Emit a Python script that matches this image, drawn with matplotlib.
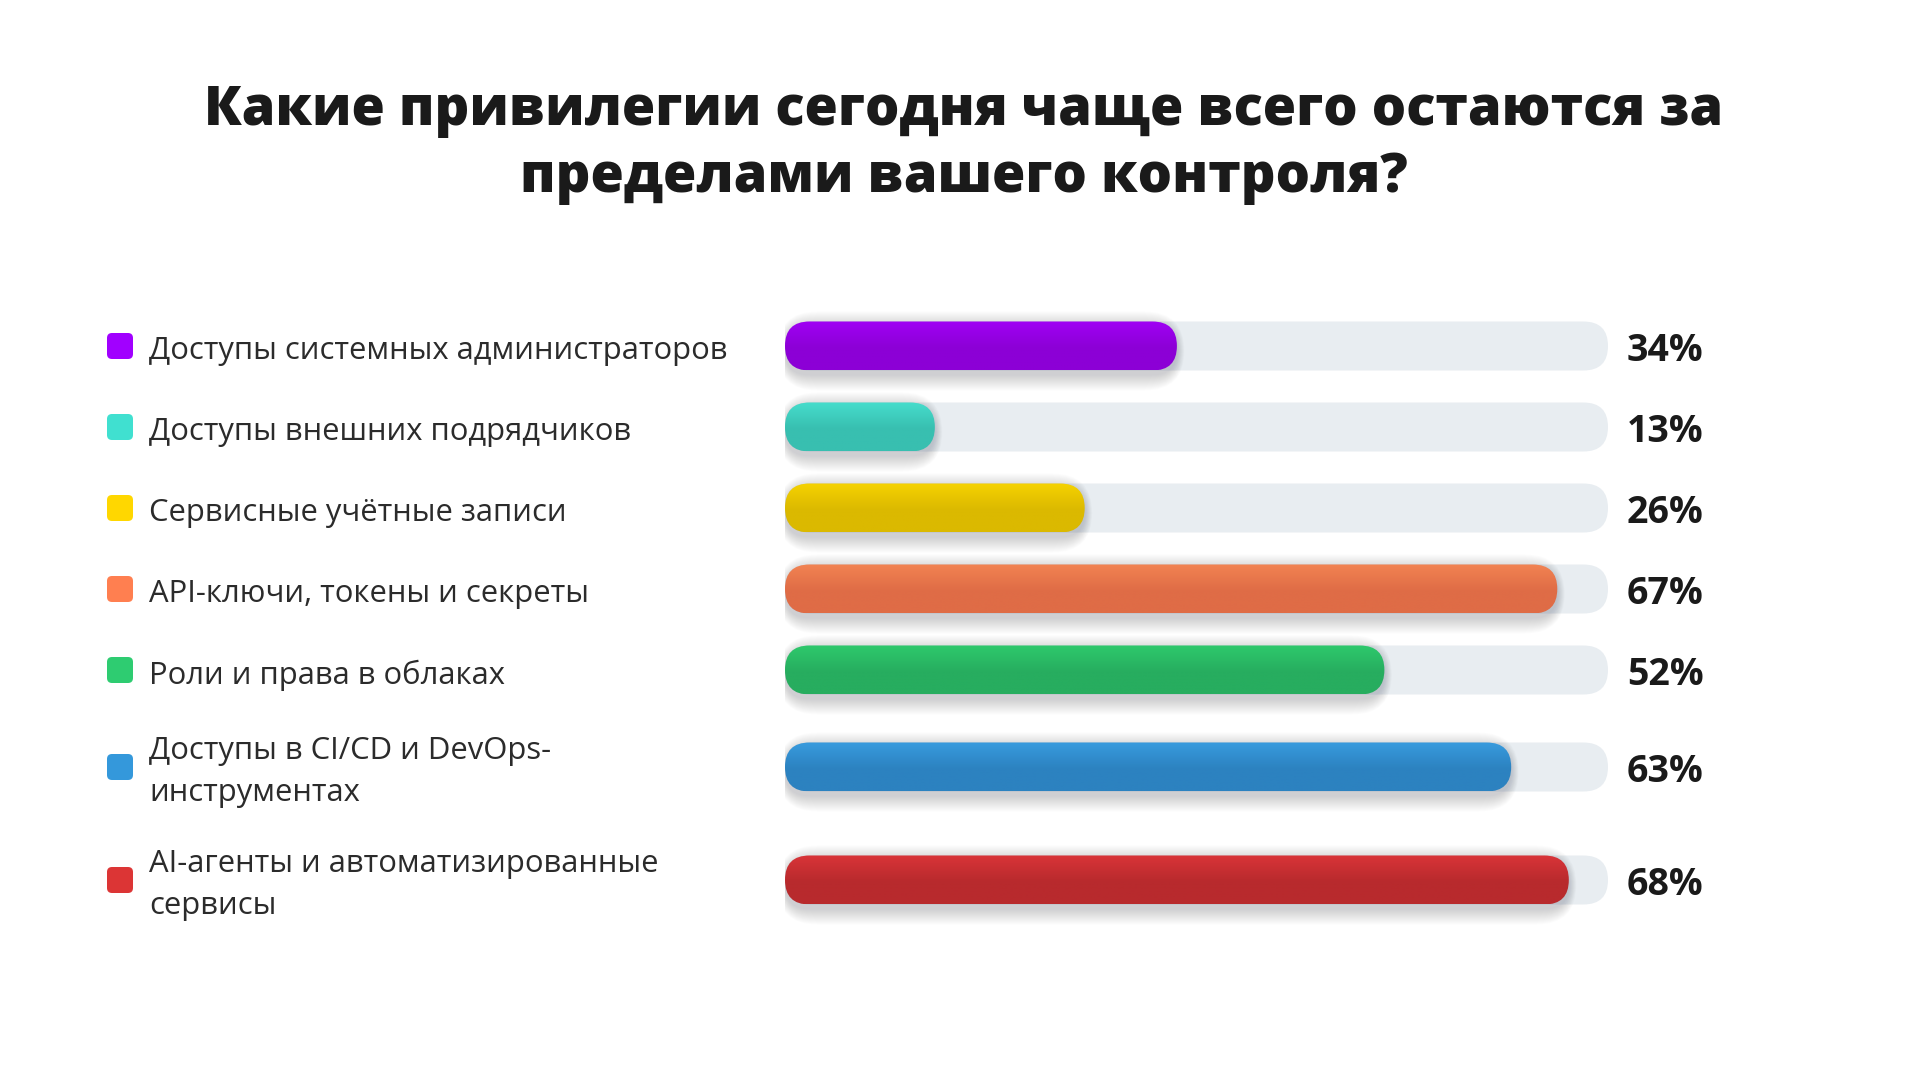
import matplotlib
matplotlib.use("Agg")
import matplotlib.pyplot as plt
from matplotlib.patches import FancyBboxPatch
import matplotlib.colors as mcolors
import numpy as np

# ---- data ----
categories = [
    "Доступы системных администраторов",
    "Доступы внешних подрядчиков",
    "Сервисные учётные записи",
    "API-ключи, токены и секреты",
    "Роли и права в облаках",
    "Доступы в CI/CD и DevOps-\nинструментах",
    "AI-агенты и автоматизированные\nсервисы",
]
values = [34, 13, 26, 67, 52, 63, 68]
value_labels = ["34%", "13%", "26%", "67%", "52%", "63%", "68%"]
title = "Какие привилегии сегодня чаще всего остаются за\nпределами вашего контроля?"

# ---- styles ----
square_colors = ["#a100ff", "#40e0d0", "#ffd700", "#ff7f50", "#2ecc71", "#3498db", "#dc3535"]
bar_top = ["#a000f4", "#46ddcc", "#f6d200", "#f28352", "#2ec96c", "#389bde", "#d93438"]
bar_bot = ["#8c00d6", "#38bfb0", "#dbb900", "#df6c46", "#27ad5f", "#2c82c0", "#b82a2d"]
track_color = "#e8edf1"
FONT = ["Open Sans", "DejaVu Sans"]

W, H = 1920, 1080
fig = plt.figure(figsize=(W / 100, H / 100), dpi=100)
fig.patch.set_facecolor("white")

# layout (pixels)
track_left, track_right = 785, 1608
bar_h = 49
row_single, row_double = 81, 113
first_center = 346

heights = [row_double if "\n" in c else row_single for c in categories]
centers = []
c = first_center
for i, hgt in enumerate(heights):
    if i > 0:
        c += heights[i - 1] / 2 + hgt / 2
    centers.append(c)

xmax = max(values) * 1.05

ax = fig.add_axes([track_left / W, 0, (track_right - track_left) / W, 1])
ax.set_xlim(0, xmax)
ax.set_ylim(H, 0)
ax.axis("off")
sx = (track_right - track_left) / xmax  # px per x unit
m = sx  # y unit is 1 px


def pill(x0, width, yc, h, **kw):
    return FancyBboxPatch((x0, yc - h / 2), width, h,
                          boxstyle=f"round,pad=0,rounding_size={h / (2 * m)}",
                          mutation_aspect=m, **kw)


for i, (v, yc) in enumerate(zip(values, centers)):
    # track
    ax.add_patch(pill(0, xmax, yc, bar_h, facecolor=track_color, edgecolor="none", zorder=1))
    # soft shadow
    for k in range(16):
        e = 2.0 * k
        ax.add_patch(pill(-e * 0.25 / sx, v + e * 0.5 / sx, yc + 5, bar_h + e,
                          facecolor="#1a2030", edgecolor="none", alpha=0.010, zorder=2))
    # gradient fill
    top = np.array(mcolors.to_rgb(bar_top[i]))
    bot = np.array(mcolors.to_rgb(bar_bot[i]))
    t = np.linspace(0, 1, 64)
    prof = np.clip(t / 0.55, 0, 1)
    grad = top[None, :] * (1 - prof[:, None]) + bot[None, :] * prof[:, None]
    img = np.repeat(grad[:, None, :], 2, axis=1)
    clip = pill(0, v, yc, bar_h, facecolor="none", edgecolor="none", zorder=3)
    ax.add_patch(clip)
    im = ax.imshow(img, extent=[0, v, yc - bar_h / 2, yc + bar_h / 2], origin="lower",
                   aspect="auto", interpolation="bilinear", zorder=3)
    im.set_clip_path(clip)

ax.set_xlim(0, xmax)
ax.set_ylim(H, 0)

# overlay for text and markers
lay = fig.add_axes([0, 0, 1, 1], zorder=5)
lay.set_xlim(0, W)
lay.set_ylim(H, 0)
lay.axis("off")
lay.patch.set_alpha(0)

lay.text(W / 2 + 4, 144, title, ha="center", va="center", fontsize=39,
         fontweight="heavy", family=FONT, color="#1a1a1a", linespacing=1.27)

sq = 26
for i, (lab, yc) in enumerate(zip(categories, centers)):
    lay.add_patch(FancyBboxPatch((107, yc - sq / 2), sq, sq,
                                 boxstyle="round,pad=0,rounding_size=5",
                                 facecolor=square_colors[i], edgecolor="none"))
    lay.text(149, yc + 5, lab, ha="left", va="center", fontsize=22.3,
             family=FONT, color="#2b2b2b", linespacing=1.5)
    lay.text(1627, yc + 5, value_labels[i], ha="left", va="center", fontsize=27,
             fontweight="bold", family=FONT, color="#1a1a1a")

fig.savefig("out.png", dpi=100, facecolor="white")
